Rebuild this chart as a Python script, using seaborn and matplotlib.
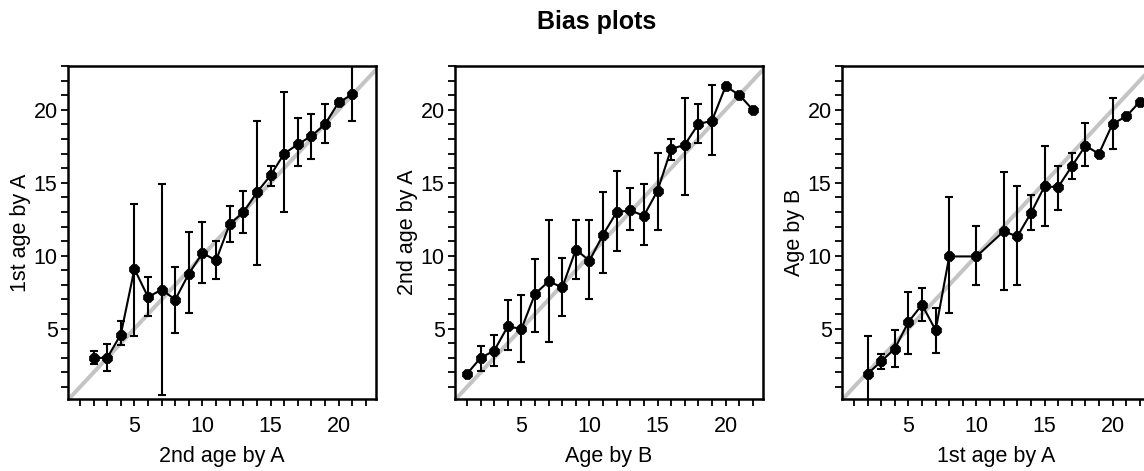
import numpy as np
import pandas as pd
import matplotlib
matplotlib.use("Agg")
import matplotlib.pyplot as plt
from matplotlib.ticker import MultipleLocator
import seaborn as sns

nan = np.nan

# ---- data ----
x1 = [2, 3, 4, 5, 6, 7, 8, 9, 10, 11, 12, 13, 14, 15, 16, 17, 18, 19, 20, 21]
y1 = [2.99, 3.0, 4.6, 9.09, 7.17, 7.67, 6.99, 8.77, 10.18, 9.68, 12.17, 12.97,
      14.34, 15.5, 16.99, 17.63, 18.2, 19.0, 20.5, 21.05]
lo1 = [2.6, 2.08, 3.85, 4.52, 5.84, 0.48, 4.7, 6.07, 8.13, 8.42, 10.91, 11.53,
       9.34, 14.77, 13.0, 16.12, 16.64, 17.72, nan, 19.25]
hi1 = [3.5, 3.95, 5.5, 13.54, 8.56, 14.93, 9.2, 11.64, 12.3, 10.98, 13.38, 14.45,
       19.2, 16.16, 21.2, 19.43, 19.73, 20.39, nan, 23.6]

x2 = list(range(1, 23))
y2 = [1.9, 3.0, 3.49, 5.16, 4.98, 7.38, 8.24, 7.83, 10.41, 9.66, 11.44, 12.99,
      13.1, 12.74, 14.45, 17.31, 17.6, 19.02, 19.25, 21.6, 21.03, 20.0]
lo2 = [nan, 2.08, 2.47, 3.52, 2.69, 4.75, 4.06, 5.84, 8.42, 7.05, 8.81, 10.3,
       11.78, 10.75, 11.78, 16.58, 14.18, 17.72, 16.92, nan, nan, nan]
hi2 = [nan, 3.84, 4.59, 6.94, 7.33, 9.77, 12.47, 9.84, 12.42, 12.47, 14.34, 15.82,
       14.61, 14.91, 17.03, 18.01, 20.8, 20.39, 21.71, nan, nan, nan]

x3 = [2, 3, 4, 5, 6, 7, 8, 10, 12, 13, 14, 15, 16, 17, 18, 19, 20, 21, 22]
y3 = [1.9, 2.76, 3.63, 5.46, 6.64, 4.89, 9.95, 9.95, 11.67, 11.32, 12.92, 14.75,
      14.7, 16.12, 17.53, 16.99, 19.04, 19.54, 20.55]
lo3 = [-0.5, 2.24, 2.37, 3.29, 5.5, 3.33, 6.07, 7.97, 7.63, 7.97, 11.78, 12.05,
       13.1, 15.27, 16.12, nan, 17.31, nan, nan]
hi3 = [4.52, 3.29, 4.89, 7.49, 7.76, 6.42, 14.0, 12.05, 15.71, 14.75, 14.18, 17.53,
       16.16, 17.03, 19.09, nan, 20.8, nan, nan]

xlabels = ["2nd age by A", "Age by B", "1st age by A"]
ylabels = ["1st age by A", "2nd age by A", "Age by B"]
title = "Bias plots"

panels = [(x1, y1, lo1, hi1), (x2, y2, lo2, hi2), (x3, y3, lo3, hi3)]

# ---- style ----
sns.set_style("ticks")
plt.rcParams["font.family"] = ["Liberation Sans", "DejaVu Sans"]
for k in ("text.color", "axes.labelcolor", "xtick.color", "ytick.color"):
    plt.rcParams[k] = "black"

W, H = 1144, 471
fig = plt.figure(figsize=(W / 100, H / 100), dpi=100)

lefts = [68, 455, 842]
aw, top, bot = 308, 66, 399

for i, (x, y, lo, hi) in enumerate(panels):
    ax = fig.add_axes([lefts[i] / W, 1 - bot / H, aw / W, (bot - top) / H])
    df = pd.DataFrame({"x": x, "y": y, "lo": lo, "hi": hi})
    ax.axline((0, 0), (1, 1), color="#c4c4c4", lw=2.9, zorder=1)
    e = df.dropna()
    ax.errorbar(e["x"], e["y"], yerr=[e["y"] - e["lo"], e["hi"] - e["y"]],
                fmt="none", ecolor="black", elinewidth=1.5, capsize=2.6,
                capthick=1.5, zorder=2)
    sns.lineplot(data=df, x="x", y="y", ax=ax, color="black", lw=1.5,
                 marker="8", markersize=7.5, markeredgecolor="black",
                 markeredgewidth=0.5, zorder=3)
    ax.set_xlim(0.12, 22.75)
    ax.set_ylim(0.18, 23.0)
    for a in (ax.xaxis, ax.yaxis):
        a.set_major_locator(MultipleLocator(5))
        a.set_minor_locator(MultipleLocator(1))
    ax.tick_params(which="both", direction="out", length=5, width=1.3,
                   color="black", labelcolor="black", labelsize=15.5)
    ax.tick_params(axis="x", which="both", pad=7)
    ax.tick_params(axis="y", which="both", pad=2.5)
    for s in ax.spines.values():
        s.set_visible(True)
        s.set_linewidth(1.8)
        s.set_color("black")
    ax.set_xlabel(xlabels[i], fontsize=15.5, labelpad=7, color="black")
    ax.set_ylabel(ylabels[i], fontsize=15.5, labelpad=2, color="black")

fig.text(597 / W, 1 - 22 / H, title, ha="center", va="center",
         fontsize=18, fontweight="bold", color="black")

fig.savefig("out.png", dpi=100)
